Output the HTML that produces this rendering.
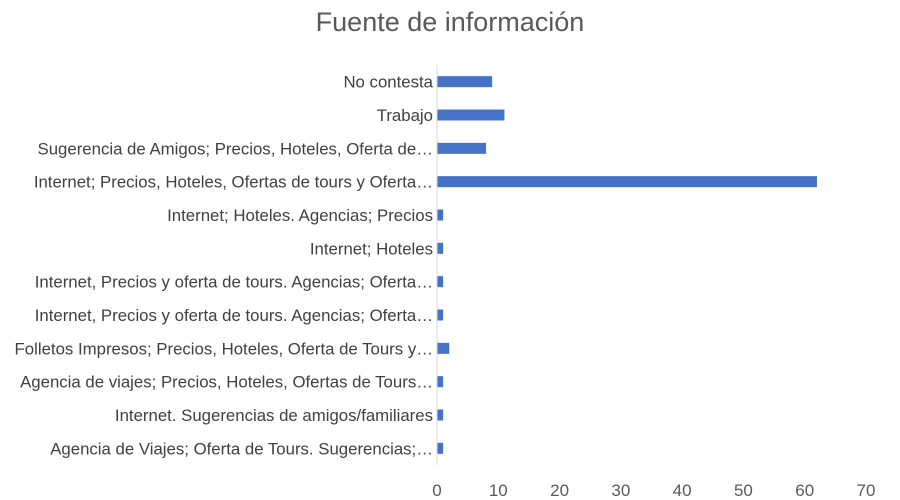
<!DOCTYPE html>
<html><head><meta charset="utf-8"><style>
body{margin:0;background:#fff;}
svg{display:block;font-family:"Liberation Sans",Calibri,sans-serif;}
</style></head><body>
<svg width="900" height="500">
<text x="450" y="31" text-anchor="middle" font-size="27" fill="#595959">Fuente de información</text>
<g id="plot"></g>
</svg>
<script>
const categories=["No contesta","Trabajo","Sugerencia de Amigos; Precios, Hoteles, Oferta de…","Internet; Precios, Hoteles, Ofertas de tours y Oferta…","Internet; Hoteles. Agencias; Precios","Internet; Hoteles","Internet, Precios y oferta de tours. Agencias; Oferta…","Internet, Precios y oferta de tours. Agencias; Oferta…","Folletos Impresos; Precios, Hoteles, Oferta de Tours y…","Agencia de viajes; Precios, Hoteles, Ofertas de Tours…","Internet. Sugerencias de amigos/familiares","Agencia de Viajes; Oferta de Tours. Sugerencias;…"];
const values=[9,11,8,62,1,1,1,1,2,1,1,1];
const ticks=[0,10,20,30,40,50,60,70];
const NS="http://www.w3.org/2000/svg";
const plotG=document.getElementById('plot');
const x0=437,x1=866,xmax=70,yTop=65,yBottom=465;
const xs=v=>x0+(v/xmax)*(x1-x0);
const band=(yBottom-yTop)/categories.length;
const ys=i=>yTop+band*(i+0.5);
function el(t,a){const e=document.createElementNS(NS,t);for(const k in a)e.setAttribute(k,a[k]);plotG.appendChild(e);return e;}
ticks.forEach(t=>{
 const tx=el('text',{x:xs(t),y:496,'text-anchor':'middle','font-size':17,fill:'#595959'});
 
 
 tx.textContent=t;
});
categories.forEach((c,i)=>{
 const tx=el('text',{x:x0-4,y:ys(i)+6,'text-anchor':'end','font-size':16.8,fill:'#404040'});
 
 
 tx.textContent=c;
 const r=el('rect',{x:x0,y:ys(i)-5.5,width:xs(values[i])-x0,height:11,fill:'#4472C4'});
 
 
});
const ax=el('line',{x1:x0,x2:x0,y1:yTop,y2:yBottom,stroke:'#d9d9d9','stroke-width':1});


</script>
</body></html>
